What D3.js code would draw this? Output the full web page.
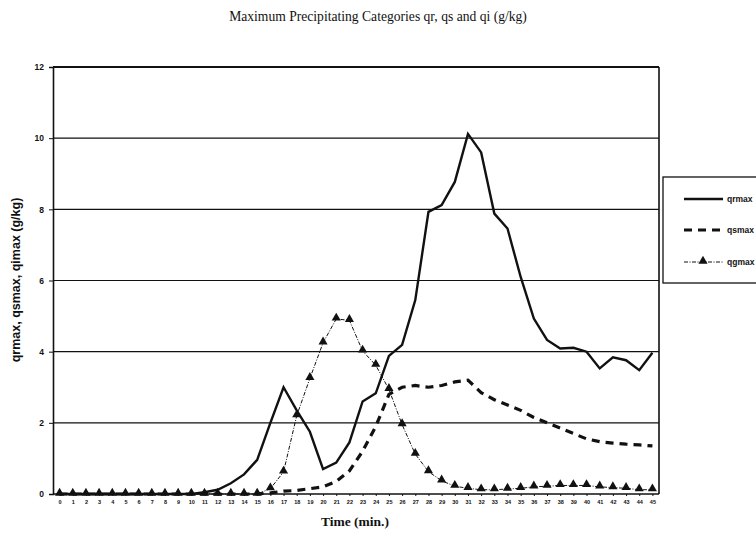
<!DOCTYPE html>
<html>
<head>
<meta charset="utf-8">
<script src="https://cdn.jsdelivr.net/npm/d3@7"></script>
<style>
  html, body { margin: 0; padding: 0; background: #fff; }
  svg { display: block; }
</style>
</head>
<body>
<svg id="chart" width="756" height="540"></svg>
<script>
// ---- Data ----
const times = d3.range(0, 46); // 0..45 minutes
const qrmax = [0,0,0,0,0,0,0,0,0,0,0,0.05,0.12,0.3,0.55,0.96,2.0,3.0,2.35,1.75,0.7,0.88,1.45,2.6,2.83,3.88,4.19,5.45,7.93,8.12,8.77,10.12,9.6,7.88,7.46,6.1,4.93,4.33,4.09,4.11,4.0,3.53,3.84,3.76,3.48,3.97];
const qsmax = [0,0,0,0,0,0,0,0,0,0,0,0,0,0,0,0,0.03,0.08,0.1,0.15,0.2,0.35,0.65,1.2,1.9,2.8,3.0,3.05,3.0,3.05,3.15,3.2,2.85,2.65,2.5,2.35,2.15,2.0,1.85,1.7,1.55,1.47,1.43,1.4,1.38,1.35];
const qgmax = [0,0,0,0,0,0,0,0,0,0,0,0,0,0,0,0,0.15,0.62,2.2,3.25,4.25,4.92,4.88,4.02,3.62,2.94,1.95,1.12,0.63,0.37,0.22,0.16,0.12,0.12,0.14,0.16,0.2,0.22,0.24,0.24,0.24,0.2,0.18,0.16,0.12,0.12];
const yTicks = [0, 2, 4, 6, 8, 10, 12];
const seriesNames = ["qrmax", "qsmax", "qgmax"];
const titleText = "Maximum Precipitating Categories qr, qs and qi (g/kg)";
const xTitle = "Time (min.)";
const yTitle = "qrmax, qsmax, qimax (g/kg)";

// ---- Layout ----
const svg = d3.select("#chart");
const plot = { left: 53, right: 659, top: 67, bottom: 494 };

const x = d3.scalePoint()
  .domain(times)
  .range([plot.left, plot.right])
  .padding(0.5);
const y = d3.scaleLinear().domain([0, 12]).range([plot.bottom, plot.top]);

// Title
svg.append("text")
  .attr("x", 378).attr("y", 21)
  .attr("text-anchor", "middle")
  .attr("font-family", "Liberation Serif, Times New Roman, serif")
  .attr("font-size", 13.6)
  .attr("fill", "#111")
  .text(titleText);

// Gridlines
svg.append("g")
  .selectAll("line")
  .data(yTicks.filter(d => d > 0 && d < 12))
  .join("line")
  .attr("x1", plot.left).attr("x2", plot.right)
  .attr("y1", d => y(d)).attr("y2", d => y(d))
  .attr("stroke", "#111").attr("stroke-width", 1.1);

// Plot border (top & right)
svg.append("line")
  .attr("x1", plot.left).attr("x2", plot.right)
  .attr("y1", plot.top).attr("y2", plot.top)
  .attr("stroke", "#111").attr("stroke-width", 2);
svg.append("line")
  .attr("x1", plot.right).attr("x2", plot.right)
  .attr("y1", plot.top).attr("y2", plot.bottom)
  .attr("stroke", "#111").attr("stroke-width", 1.6);

// Y axis
const yAxis = svg.append("g")
  .attr("transform", `translate(${plot.left},0)`)
  .call(d3.axisLeft(y).tickValues(yTicks).tickSize(4).tickFormat(d3.format("d")));
yAxis.select(".domain").attr("stroke", "#111").attr("stroke-width", 1.6);
yAxis.selectAll(".tick line").attr("stroke", "#111");
yAxis.selectAll(".tick text")
  .attr("font-family", "Liberation Sans, Arial, sans-serif")
  .attr("font-weight", "bold")
  .attr("font-size", 8.5)
  .attr("fill", "#111")
  .attr("dx", -2);

// X axis
const xAxis = svg.append("g")
  .attr("transform", `translate(0,${plot.bottom})`)
  .call(d3.axisBottom(x).tickSize(2).tickSizeOuter(0));
xAxis.select(".domain").attr("stroke", "#111").attr("stroke-width", 1.6)
  .attr("d", `M${plot.left},0H${plot.right}`);
xAxis.selectAll(".tick line").attr("stroke", "#111");
xAxis.selectAll(".tick text")
  .attr("font-family", "Liberation Sans, Arial, sans-serif")
  .attr("font-weight", "bold")
  .attr("font-size", 5.5)
  .attr("fill", "#111")
  .attr("dy", "0.9em");

// Axis titles
svg.append("text")
  .attr("x", 355).attr("y", 526)
  .attr("text-anchor", "middle")
  .attr("font-family", "Liberation Serif, Times New Roman, serif")
  .attr("font-weight", "bold")
  .attr("font-size", 13.5)
  .attr("fill", "#111")
  .text(xTitle);

svg.append("text")
  .attr("transform", "translate(20,280) rotate(-90)")
  .attr("text-anchor", "middle")
  .attr("font-family", "Liberation Sans, Arial, sans-serif")
  .attr("font-weight", "bold")
  .attr("font-size", 12.5)
  .attr("fill", "#111")
  .text(yTitle);

// Series
const line = d3.line().x((d, i) => x(times[i])).y(d => y(d));

svg.append("path").datum(qgmax)
  .attr("d", line)
  .attr("fill", "none")
  .attr("stroke", "#111")
  .attr("stroke-width", 1)
  .attr("stroke-dasharray", "4,1.5,1,1.5");

svg.append("path").datum(qsmax)
  .attr("d", line)
  .attr("fill", "none")
  .attr("stroke", "#111")
  .attr("stroke-width", 3.2)
  .attr("stroke-dasharray", "8,6");

svg.append("path").datum(qrmax)
  .attr("d", line)
  .attr("fill", "none")
  .attr("stroke", "#111")
  .attr("stroke-width", 2.4)
  .attr("stroke-linejoin", "miter");

const tri = d3.symbol().type(d3.symbolTriangle).size(36);
svg.append("g")
  .selectAll("path")
  .data(qgmax)
  .join("path")
  .attr("d", tri)
  .attr("transform", (d, i) => `translate(${x(times[i])},${y(d) - 1})`)
  .attr("fill", "#111");

// Legend
const lg = svg.append("g");
lg.append("rect")
  .attr("x", 663).attr("y", 177)
  .attr("width", 100).attr("height", 106)
  .attr("fill", "#fff")
  .attr("stroke", "#111").attr("stroke-width", 1.3);
const legendY = [199, 230, 262];
const styles = [
  { w: 2.4, dash: null },
  { w: 3.2, dash: "8,6" },
  { w: 1, dash: "4,1.5,1,1.5" }
];
seriesNames.forEach((name, i) => {
  const ly = legendY[i];
  const l = lg.append("line")
    .attr("x1", 684).attr("x2", 723)
    .attr("y1", ly).attr("y2", ly)
    .attr("stroke", "#111").attr("stroke-width", styles[i].w);
  if (styles[i].dash) l.attr("stroke-dasharray", styles[i].dash);
  if (i === 2) {
    lg.append("path").attr("d", tri)
      .attr("transform", `translate(703,${ly - 1})`)
      .attr("fill", "#111");
  }
  lg.append("text")
    .attr("x", 727).attr("y", ly + 3)
    .attr("font-family", "Liberation Sans, Arial, sans-serif")
    .attr("font-weight", "bold")
    .attr("font-size", 8.5)
    .attr("fill", "#111")
    .text(name);
});
</script>
</body>
</html>
